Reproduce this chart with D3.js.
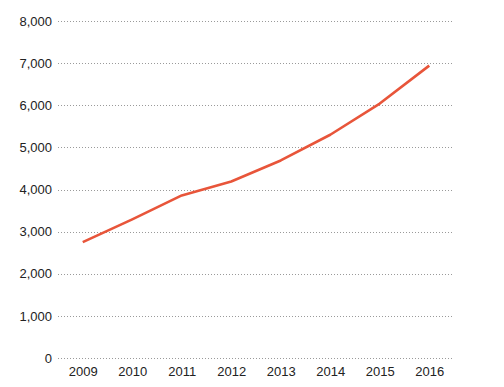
<!DOCTYPE html>
<html>
<head>
<meta charset="utf-8">
<script src="https://cdn.jsdelivr.net/npm/d3@7"></script>
<style>
  body { margin: 0; background: #fff; }
  text { font-family: "Liberation Sans", Arial, sans-serif; }
</style>
</head>
<body>
<script>
// chart data
var years = ["2009", "2010", "2011", "2012", "2013", "2014", "2015", "2016"];
var values = [2750, 3290, 3860, 4190, 4690, 5300, 6040, 6940];
var yTicks = [0, 1000, 2000, 3000, 4000, 5000, 6000, 7000, 8000];

var width = 504, height = 387;
var margin = {top: 21, right: 50, bottom: 29, left: 58};

var svg = d3.select("body").append("svg")
    .attr("width", width)
    .attr("height", height);

var x = d3.scalePoint()
    .domain(years)
    .range([margin.left, width - margin.right])
    .padding(0.5);

var y = d3.scaleLinear()
    .domain([0, 8000])
    .range([height - margin.bottom, margin.top]);

// dotted grid lines
svg.append("g")
    .selectAll("line")
    .data(yTicks)
    .enter()
    .append("line")
    .attr("x1", margin.left)
    .attr("x2", width - margin.right)
    .attr("y1", d => Math.round(y(d)) + 0.5)
    .attr("y2", d => Math.round(y(d)) + 0.5)
    .attr("stroke", "#9a9a9a")
    .attr("stroke-width", 1)
    .attr("stroke-dasharray", "1,2");

// y axis labels
var yAxis = d3.axisLeft(y)
    .tickValues(yTicks)
    .tickFormat(d3.format(","))
    .tickSize(0)
    .tickPadding(6);

svg.append("g")
    .attr("transform", "translate(" + margin.left + ",0)")
    .call(yAxis)
    .call(g => g.select(".domain").remove())
    .selectAll("text")
    .attr("font-size", 13)
    .attr("font-family", "Liberation Sans, Arial, sans-serif")
    .attr("fill", "#222");

// x axis labels
var xAxis = d3.axisBottom(x)
    .tickSize(0)
    .tickPadding(9);

svg.append("g")
    .attr("transform", "translate(0," + (height - margin.bottom) + ")")
    .call(xAxis)
    .call(g => g.select(".domain").remove())
    .selectAll("text")
    .attr("font-size", 13)
    .attr("font-family", "Liberation Sans, Arial, sans-serif")
    .attr("fill", "#222");

// the line
var line = d3.line()
    .x((d, i) => x(years[i]))
    .y(d => y(d))
    .curve(d3.curveLinear);

svg.append("path")
    .datum(values)
    .attr("d", line)
    .attr("fill", "none")
    .attr("stroke", "#e8553a")
    .attr("stroke-width", 2.6)
    .attr("stroke-linejoin", "round");
</script>
</body>
</html>
